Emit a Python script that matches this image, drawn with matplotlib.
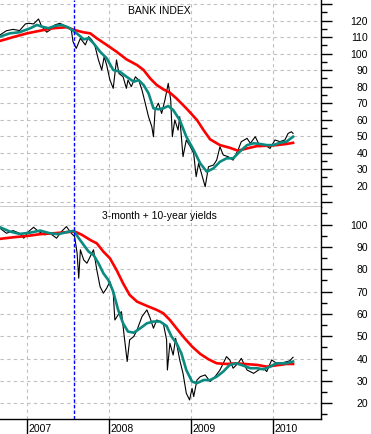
import matplotlib
matplotlib.use("Agg")
import matplotlib.pyplot as plt
import matplotlib.transforms as mtransforms
from matplotlib.ticker import MultipleLocator

plt.rcParams['font.family'] = ['Liberation Sans', 'DejaVu Sans']

# ---------------- data (decimal years) ----------------
bank_t = [2006.67, 2006.75, 2006.83, 2006.91, 2006.98, 2007.02, 2007.08, 2007.14, 2007.18,
          2007.24, 2007.28, 2007.34, 2007.40, 2007.48, 2007.54, 2007.56, 2007.60, 2007.65,
          2007.71, 2007.75, 2007.79, 2007.83, 2007.87, 2007.91, 2007.94, 2007.97, 2008.01,
          2008.05, 2008.09, 2008.12, 2008.17, 2008.21, 2008.23, 2008.27, 2008.32, 2008.36,
          2008.40, 2008.44, 2008.48, 2008.52, 2008.54, 2008.56, 2008.60, 2008.64, 2008.68,
          2008.72, 2008.75, 2008.77, 2008.80, 2008.84, 2008.86, 2008.90, 2008.94, 2008.99,
          2009.03, 2009.06, 2009.09, 2009.13, 2009.17, 2009.21, 2009.27, 2009.31, 2009.35,
          2009.39, 2009.45, 2009.51, 2009.57, 2009.61, 2009.68, 2009.72, 2009.78, 2009.84,
          2009.90, 2009.96, 2010.02, 2010.08, 2010.14, 2010.18, 2010.22, 2010.24]
bank_v = [111.3, 113.9, 114.7, 114.0, 118.0, 118.4, 118.0, 121.0, 116.4,
          113.0, 114.3, 117.4, 118.4, 116.4, 114.3, 107.3, 103.2, 109.3,
          105.3, 110.3, 108.3, 104.2, 96.2, 90.1, 98.2, 93.1, 84.0,
          79.0, 96.2, 88.0, 86.0, 79.0, 84.0, 80.0, 86.0, 84.0,
          78.0, 70.0, 61.8, 55.8, 49.7, 65.9, 70.0, 63.8, 72.0,
          82.0, 72.0, 49.7, 59.8, 53.7, 61.8, 37.6, 47.7, 43.6,
          39.6, 25.5, 33.5, 26.5, 19.4, 31.5, 32.5, 35.5, 43.6,
          38.6, 37.6, 35.5, 41.6, 46.7, 48.7, 45.7, 49.7, 43.6,
          44.6, 42.6, 47.7, 46.7, 47.7, 51.7, 52.7, 51.7]

bank_ma_fast_t = [2006.67, 2006.79, 2006.91, 2007.04, 2007.12, 2007.18, 2007.26, 2007.34,
                  2007.42, 2007.50, 2007.56, 2007.63, 2007.69, 2007.75, 2007.81, 2007.89,
                  2007.97, 2008.05, 2008.13, 2008.21, 2008.30, 2008.36, 2008.42, 2008.48,
                  2008.54, 2008.60, 2008.66, 2008.72, 2008.78, 2008.86, 2008.94, 2009.03,
                  2009.11, 2009.19, 2009.27, 2009.35, 2009.43, 2009.51, 2009.59, 2009.68,
                  2009.76, 2009.84, 2009.92, 2010.00, 2010.08, 2010.16, 2010.24]
bank_ma_fast_v = [110.3, 112.3, 113.0, 115.4, 117.4, 116.4, 115.4, 116.8,
                  117.4, 116.0, 114.0, 111.3, 108.7, 109.3, 106.3, 101.2,
                  97.2, 90.1, 89.1, 86.1, 83.0, 84.0, 81.0, 76.0,
                  66.9, 66.3, 66.9, 68.3, 65.9, 59.8, 49.7, 41.6,
                  33.5, 28.5, 30.5, 34.5, 36.6, 36.6, 40.6, 44.6,
                  45.7, 45.3, 44.6, 44.6, 46.0, 46.7, 49.7]

bank_ma_slow_t = [2006.67, 2006.83, 2007.00, 2007.16, 2007.32, 2007.48, 2007.58, 2007.69,
                  2007.77, 2007.85, 2007.97, 2008.09, 2008.21, 2008.34, 2008.42, 2008.50,
                  2008.58, 2008.66, 2008.74, 2008.82, 2008.94, 2009.07, 2009.15, 2009.23,
                  2009.35, 2009.47, 2009.57, 2009.68, 2009.80, 2009.92, 2010.04, 2010.16,
                  2010.24]
bank_ma_slow_v = [107.7, 110.0, 112.3, 113.9, 115.4, 116.0, 114.3, 112.9,
                  112.3, 109.3, 105.3, 101.2, 96.6, 93.1, 90.1, 85.0,
                  81.0, 78.4, 76.4, 72.9, 66.9, 59.8, 53.7, 48.1,
                  44.6, 43.0, 41.2, 42.6, 44.0, 44.2, 44.6, 45.3,
                  46.0]

yld_t = [2006.67, 2006.75, 2006.83, 2006.91, 2006.96, 2007.02, 2007.08, 2007.14, 2007.22,
         2007.28, 2007.36, 2007.42, 2007.48, 2007.54, 2007.58, 2007.61, 2007.63, 2007.65,
         2007.69, 2007.73, 2007.77, 2007.81, 2007.85, 2007.89, 2007.93, 2007.97, 2008.01,
         2008.05, 2008.07, 2008.11, 2008.15, 2008.18, 2008.22, 2008.25, 2008.30, 2008.34,
         2008.40, 2008.46, 2008.50, 2008.54, 2008.58, 2008.66, 2008.70, 2008.71, 2008.74,
         2008.78, 2008.81, 2008.86, 2008.90, 2008.94, 2008.98, 2009.01, 2009.03, 2009.07,
         2009.11, 2009.17, 2009.23, 2009.29, 2009.35, 2009.39, 2009.43, 2009.47, 2009.51,
         2009.57, 2009.61, 2009.68, 2009.76, 2009.82, 2009.88, 2009.92, 2009.98, 2010.04,
         2010.12, 2010.20, 2010.24]
yld_v = [98.4, 96.1, 97.3, 96.1, 93.9, 96.9, 98.8, 96.9, 95.4,
         96.1, 93.9, 96.9, 99.1, 96.1, 94.6, 87.2, 76.0, 88.7,
         84.2, 82.7, 85.7, 88.7, 79.7, 72.2, 69.3, 71.5, 74.5,
         69.3, 57.3, 59.6, 61.0, 51.3, 38.7, 48.4, 49.9, 52.8,
         58.8, 61.8, 58.1, 53.6, 57.3, 55.8, 48.4, 34.9, 46.9,
         41.6, 49.1, 39.4, 33.4, 24.5, 21.5, 26.7, 23.0, 30.4,
         31.9, 32.7, 29.7, 31.9, 34.9, 37.9, 40.9, 39.4, 35.7,
         37.9, 40.1, 34.9, 33.4, 34.9, 35.7, 34.2, 39.4, 37.9,
         38.2, 39.0, 40.6]

yld_ma_fast_t = [2006.67, 2006.79, 2006.91, 2007.04, 2007.16, 2007.28, 2007.38, 2007.48,
                 2007.57, 2007.63, 2007.69, 2007.75, 2007.81, 2007.87, 2007.93, 2007.99,
                 2008.05, 2008.11, 2008.17, 2008.23, 2008.30, 2008.38, 2008.46, 2008.54,
                 2008.62, 2008.70, 2008.76, 2008.82, 2008.88, 2008.94, 2009.01, 2009.07,
                 2009.15, 2009.23, 2009.31, 2009.39, 2009.47, 2009.55, 2009.63, 2009.72,
                 2009.80, 2009.88, 2009.96, 2010.04, 2010.16, 2010.24]
yld_ma_fast_v = [98.8, 96.9, 95.8, 96.4, 97.3, 96.1, 95.7, 96.6,
                 97.2, 93.9, 90.9, 87.9, 86.4, 82.7, 78.2, 75.2,
                 70.0, 61.8, 55.8, 52.1, 51.6, 53.6, 55.8, 56.6,
                 56.6, 54.6, 49.9, 46.9, 42.4, 34.9, 29.7, 29.0,
                 30.4, 30.4, 31.9, 34.2, 37.2, 37.9, 36.9, 35.7,
                 35.7, 35.2, 36.4, 37.9, 37.9, 38.7]

yld_ma_slow_t = [2006.67, 2006.83, 2007.00, 2007.16, 2007.32, 2007.48, 2007.58, 2007.67,
                 2007.77, 2007.85, 2007.93, 2008.01, 2008.09, 2008.17, 2008.25, 2008.34,
                 2008.46, 2008.58, 2008.66, 2008.74, 2008.82, 2008.92, 2009.01, 2009.11,
                 2009.21, 2009.31, 2009.43, 2009.55, 2009.68, 2009.80, 2009.92, 2010.04,
                 2010.16, 2010.24]
yld_ma_slow_v = [93.6, 94.3, 94.9, 95.7, 96.1, 96.6, 96.9, 95.4,
                 93.1, 91.6, 87.9, 84.9, 79.7, 73.7, 68.5, 65.5,
                 63.6, 61.8, 60.3, 57.3, 53.6, 49.1, 45.4, 42.1,
                 39.7, 37.9, 37.6, 37.9, 37.5, 37.2, 36.4, 37.0,
                 37.6, 37.6]

years = [2007, 2008, 2009, 2010]
marker_date = 2007.57
titles = ["BANK INDEX", "3-month + 10-year yields"]

# ---------------- figure ----------------
W, H = 371, 434
fig = plt.figure(figsize=(W / 100, H / 100), dpi=100)
ax_right = 320.7 / W
top_box = [0, 1 - 206.7 / H, ax_right, 206.7 / H]
bot_box = [0, 1 - 418.7 / H, ax_right, (418.7 - 206.7) / H]
ax1 = fig.add_axes(top_box)
ax2 = fig.add_axes(bot_box, sharex=ax1)

RED = '#ff0000'
TEAL = '#0a8a80'
GRID = '#c0c0c0'
FS = 7.5

panels = [
    (ax1, bank_t, bank_v, bank_ma_fast_t, bank_ma_fast_v, bank_ma_slow_t, bank_ma_slow_v,
     (7.3, 132.5), range(20, 121, 10), range(10, 131, 10)),
    (ax2, yld_t, yld_v, yld_ma_fast_t, yld_ma_fast_v, yld_ma_slow_t, yld_ma_slow_v,
     (13.1, 108.0), range(20, 101, 10), range(20, 101, 10)),
]

for i, (ax, t, v, ft, fv, st, sv, ylim, labeled, gridvals) in enumerate(panels):
    ax.set_xlim(2006.671, 2010.577)
    ax.set_ylim(*ylim)
    for g in gridvals:
        ax.axhline(g, color=GRID, lw=0.8, ls=(0, (3, 3)), zorder=0)
    for yr in years:
        ax.axvline(yr, color=GRID, lw=0.8, ls=(0, (3, 3)), zorder=0)
    ax.plot(t, v, color='black', lw=0.8, zorder=2)
    ax.plot(st, sv, color=RED, lw=1.9, zorder=3)
    ax.plot(ft, fv, color=TEAL, lw=1.9, zorder=4)
    ax.axvline(marker_date, color='#0000ff', lw=1.0, ls=(0, (2.5, 1.5)), zorder=5)

    ax.yaxis.tick_right()
    ax.yaxis.set_major_locator(MultipleLocator(10))
    ax.yaxis.set_minor_locator(MultipleLocator(5))
    ax.tick_params(axis='y', which='major', direction='out', length=8, width=1,
                   pad=26, labelsize=FS, right=True, left=False)
    ax.tick_params(axis='y', which='minor', direction='out', length=4.3, width=1,
                   right=True, left=False)
    ax.set_yticks(list(ax.get_yticks()))
    ax.set_ylim(*ylim)
    labs = [str(int(round(y))) if int(round(y)) in labeled else '' for y in ax.get_yticks()]
    ax.set_yticklabels(labs)
    for lab in ax.get_yticklabels():
        lab.set_horizontalalignment('right')

    ax.spines['left'].set_visible(False)
    ax.spines['top'].set_visible(False)
    ax.spines['right'].set_linewidth(1.0)
    ax.spines['bottom'].set_linewidth(1.0)
    ax.set_facecolor('white')
    ax.text(0.497, 0.947 if i == 0 else 0.956, titles[i], transform=ax.transAxes,
            ha='center', va='center', fontsize=FS)

ax1.tick_params(axis='x', which='both', bottom=False, labelbottom=False)
ax2.set_xticks(years)
ax2.tick_params(axis='x', which='major', direction='out', length=12, width=1,
                labelbottom=False, bottom=True)
trans = mtransforms.blended_transform_factory(ax2.transData, fig.transFigure)
for yr in years:
    ax2.text(yr + 0.015, 1 - 428.5 / H, str(yr), transform=trans, ha='left',
             va='center', fontsize=FS)

fig.savefig('out.png', dpi=100, facecolor='white')
